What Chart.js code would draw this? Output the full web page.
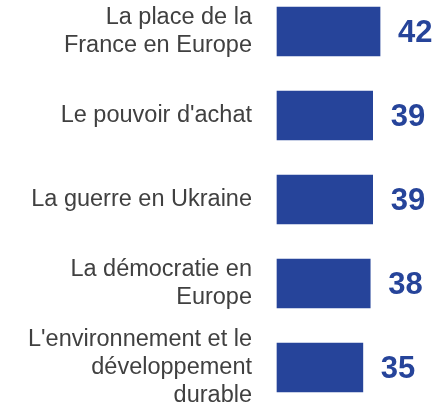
<!DOCTYPE html>
<html>
<head>
<meta charset="utf-8">
<script src="https://cdn.jsdelivr.net/npm/chart.js@4"></script>
<style>
  html, body { margin: 0; padding: 0; background: #fff; }
</style>
</head>
<body>
<canvas id="chart" width="436" height="404"></canvas>
<script>
// Data
const categories = [
  ["La place de la", "France en Europe"],
  ["Le pouvoir d'achat"],
  ["La guerre en Ukraine"],
  ["La démocratie en", "Europe"],
  ["L'environnement et le", "développement", "durable"],
];
const values = [42, 39, 39, 38, 35];

const barColor = "#26449a";

// Draw value labels to the right of each bar
const valueLabels = {
  id: "valueLabels",
  afterDatasetsDraw(chart) {
    const ctx = chart.ctx;
    const meta = chart.getDatasetMeta(0);
    ctx.save();
    ctx.font = "bold 31px 'Liberation Sans', Arial, sans-serif";
    ctx.fillStyle = barColor;
    ctx.textAlign = "left";
    ctx.textBaseline = "middle";
    meta.data.forEach((bar, i) => {
      ctx.fillText(String(values[i]), bar.x + 18, bar.y + 2);
    });
    ctx.restore();
  },
};

const ctx = document.getElementById("chart").getContext("2d");
window.mainChart = new Chart(ctx, {
  type: "bar",
  data: {
    labels: categories,
    datasets: [
      {
        data: values,
        backgroundColor: barColor,
        borderWidth: 0,
        barThickness: 49,
        clip: false,
      },
    ],
  },
  options: {
    responsive: false,
    animation: false,
    indexAxis: "y",
    layout: {
      padding: { top: 31.5, bottom: 36.5, left: 0, right: 2 },
    },
    scales: {
      x: {
        display: false,
        min: 0,
        max: 64,
      },
      y: {
        offset: false,
        grid: { display: false, drawTicks: false },
        border: { display: false },
        ticks: {
          padding: 25,
          autoSkip: false,
          color: "#404040",
          font: { family: "'Liberation Sans', Arial, sans-serif", size: 23.5 },
        },
        afterFit(scale) {
          scale.width = 277;
          scale.paddingTop = 0;
          scale.paddingBottom = 0;
        },
      },
    },
    plugins: {
      legend: { display: false },
      tooltip: { enabled: false },
    },
  },
  plugins: [valueLabels],
});
</script>
</body>
</html>
